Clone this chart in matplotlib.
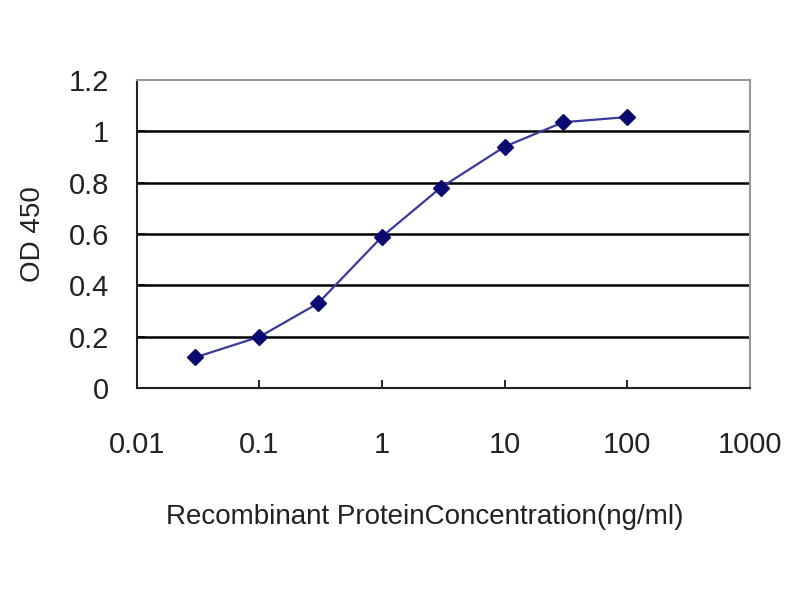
import matplotlib
matplotlib.use("Agg")
import matplotlib.pyplot as plt
from matplotlib.ticker import FixedLocator, FixedFormatter, NullLocator

concentration = [0.03, 0.1, 0.3, 1, 3, 10, 30, 100]
od450 = [0.12, 0.20, 0.33, 0.59, 0.78, 0.94, 1.035, 1.055]
x_ticks = [0.01, 0.1, 1, 10, 100, 1000]
x_tick_labels = ["0.01", "0.1", "1", "10", "100", "1000"]
y_ticks = [0, 0.2, 0.4, 0.6, 0.8, 1.0, 1.2]
y_tick_labels = ["0", "0.2", "0.4", "0.6", "0.8", "1", "1.2"]

plt.rcParams['font.family'] = ['Liberation Sans', 'DejaVu Sans']

fig = plt.figure(figsize=(8, 6), dpi=100)
ax = fig.add_axes([0.171, 0.353, 0.7665, 0.514])

ax.set_xscale('log')
ax.set_xlim(0.01, 1000)
ax.set_ylim(0, 1.2)

for yv in y_ticks[1:-1]:
    ax.axhline(yv, color='black', linewidth=1.8, zorder=1)

ax.plot(concentration, od450, color='#3a3a9a', linewidth=1.6, zorder=2)
ax.plot(concentration, od450, linestyle='none', marker='D', markersize=8,
        color='#0a0a70', zorder=3)

ax.xaxis.set_major_locator(FixedLocator(x_ticks))
ax.xaxis.set_major_formatter(FixedFormatter(x_tick_labels))
ax.xaxis.set_minor_locator(NullLocator())
ax.set_yticks(y_ticks)
ax.set_yticklabels(y_tick_labels)

ax.tick_params(axis='both', direction='in', length=6, width=1.2, labelsize=21,
               colors='black', labelcolor='#222222')
ax.tick_params(axis='x', pad=31)
ax.tick_params(axis='y', pad=20)

for side in ['left', 'bottom']:
    ax.spines[side].set_color('#222222')
    ax.spines[side].set_linewidth(1.5)
for side in ['top', 'right']:
    ax.spines[side].set_color('#999999')
    ax.spines[side].set_linewidth(1.5)

ax.set_xlabel('Recombinant ProteinConcentration(ng/ml)', fontsize=20, color='#222222',
              va='center')
ax.xaxis.set_label_coords(0.47, -0.419)
ax.set_ylabel('OD 450', fontsize=20, labelpad=16, color='#222222')

fig.savefig('out.png', dpi=100)
